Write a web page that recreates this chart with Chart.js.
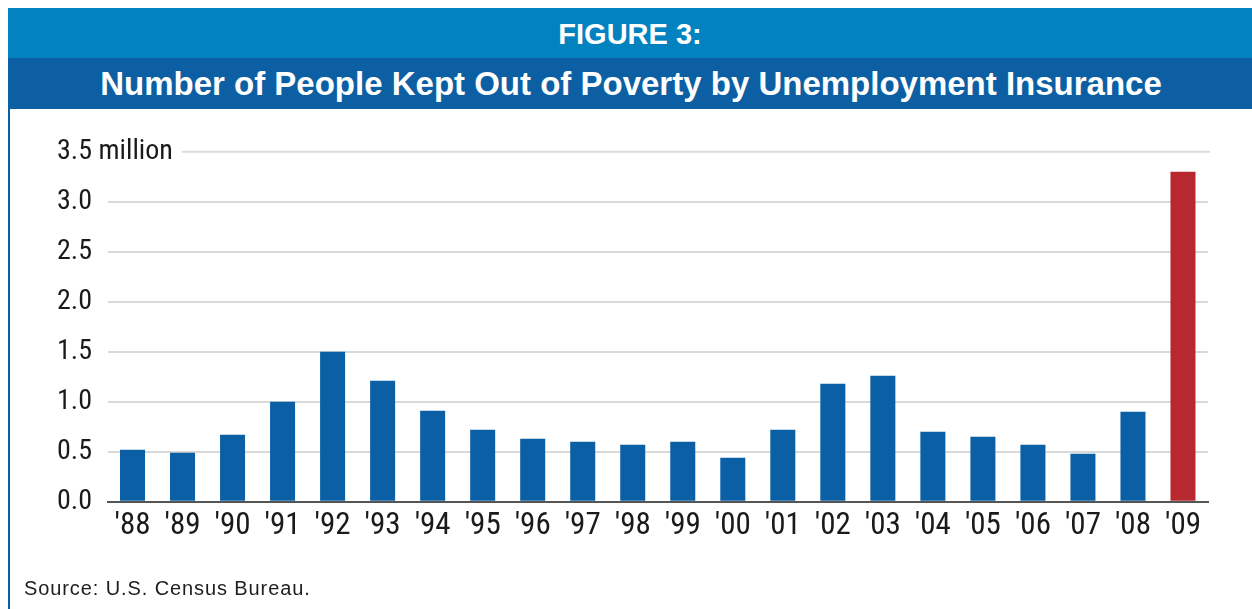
<!DOCTYPE html>
<html>
<head>
<meta charset="utf-8">
<script src="https://cdn.jsdelivr.net/npm/chart.js@4/dist/chart.umd.min.js"></script>
<style>
  html, body { margin: 0; padding: 0; background: #fff; }
  body { width: 1252px; height: 609px; position: relative; overflow: hidden; }
  #chart { position: absolute; left: 0; top: 0; }
  .band { position: absolute; color: #fff; text-align: center; font-family: "Liberation Sans", Arial, sans-serif; font-weight: bold; }
  #fig { left: 8px; top: 8px; width: 1244px; height: 50px; background: #0282bf; font-size: 29px; line-height: 52px; }
  #title { left: 10px; top: 58px; width: 1242px; height: 51px; background: #0d5fa3; font-size: 33px; line-height: 52px; }
  #edge { position: absolute; left: 8px; top: 58px; width: 2px; height: 551px; background: #0d5fa3; }
  #source { position: absolute; left: 24px; top: 577px; font-family: "Liberation Sans", Arial, sans-serif; font-size: 20px; letter-spacing: 0.9px; color: #1e1e1e; }
</style>
</head>
<body>
<canvas id="chart" width="1252" height="609"></canvas>
<div class="band" id="fig">FIGURE 3:</div>
<div class="band" id="title">Number of People Kept Out of Poverty by Unemployment Insurance</div>
<div id="edge"></div>
<div id="source">Source: U.S. Census Bureau.</div>

<script>
// data (millions of people)
const years = ["'88","'89","'90","'91","'92","'93","'94","'95","'96","'97","'98",
               "'99","'00","'01","'02","'03","'04","'05","'06","'07","'08","'09"];
const peopleKept = [0.52, 0.49, 0.67, 1.00, 1.50, 1.21, 0.91, 0.72, 0.63, 0.60, 0.57,
                    0.60, 0.44, 0.72, 1.18, 1.26, 0.70, 0.65, 0.57, 0.48, 0.90, 3.30];
const yTicks = [0, 0.5, 1.0, 1.5, 2.0, 2.5, 3.0, 3.5];
const topTickLabel = "3.5 million";

const BLUE = "#0b5fa5";
const RED = "#b8282f";

const barColors = peopleKept.map((v, i) => i === peopleKept.length - 1 ? RED : BLUE);

const tickFont = "'Roboto Condensed', 'DejaVu Sans Condensed', sans-serif";

// top gridline starts after the "3.5 million" label, which is drawn here too
const topGridPlugin = {
  id: "topGrid",
  beforeDatasetsDraw(chart) {
    const y = chart.scales.y;
    const ctx = chart.ctx;
    const py = y.getPixelForValue(3.5);
    ctx.save();
    ctx.font = "28px " + tickFont;
    ctx.fillStyle = "#1a1a1a";
    ctx.textBaseline = "middle";
    ctx.textAlign = "left";
    ctx.fillText(topTickLabel, y.left, py);
    const startX = y.left + ctx.measureText(topTickLabel).width + 9;
    ctx.strokeStyle = "#d9d9d9";
    ctx.lineWidth = 2;
    ctx.beginPath();
    ctx.moveTo(startX, py);
    ctx.lineTo(chart.chartArea.right + 2, py);
    ctx.stroke();
    ctx.restore();
  }
};

new Chart(document.getElementById("chart"), {
  type: "bar",
  data: {
    labels: years,
    datasets: [{
      data: peopleKept,
      backgroundColor: barColors,
      borderWidth: 0,
      barPercentage: 0.5,
      categoryPercentage: 1.0
    }]
  },
  options: {
    responsive: false,
    animation: false,
    events: [],
    layout: { padding: { left: 57, right: 44, top: 151.7, bottom: 0 } },
    plugins: { legend: { display: false }, tooltip: { enabled: false } },
    scales: {
      x: {
        afterFit(scale) { scale.height = 107.3; },
        grid: { display: false, drawTicks: false },
        border: { color: "#555", width: 2 },
        ticks: {
          color: "#1a1a1a",
          font: { family: tickFont, size: 31, lineHeight: 1 },
          padding: 9,
          maxRotation: 0,
          autoSkip: false
        }
      },
      y: {
        min: 0,
        max: 3.5,
        afterBuildTicks(scale) {
          scale.ticks = yTicks.map(v => ({ value: v }));
        },
        afterFit(scale) { scale.width = 50.5; },
        grid: {
          drawTicks: false,
          lineWidth: 2,
          color: ctx => (ctx.tick && (ctx.tick.value === 3.5 || ctx.tick.value === 0)) ? "rgba(0,0,0,0)" : "#d9d9d9"
        },
        border: { display: false },
        ticks: {
          crossAlign: "far",
          color: "#1a1a1a",
          font: { family: tickFont, size: 28 },
          padding: 0,
          callback: v => v === 3.5 ? "" : v.toFixed(1)
        }
      }
    }
  },
  plugins: [topGridPlugin]
});
</script>
</body>
</html>
